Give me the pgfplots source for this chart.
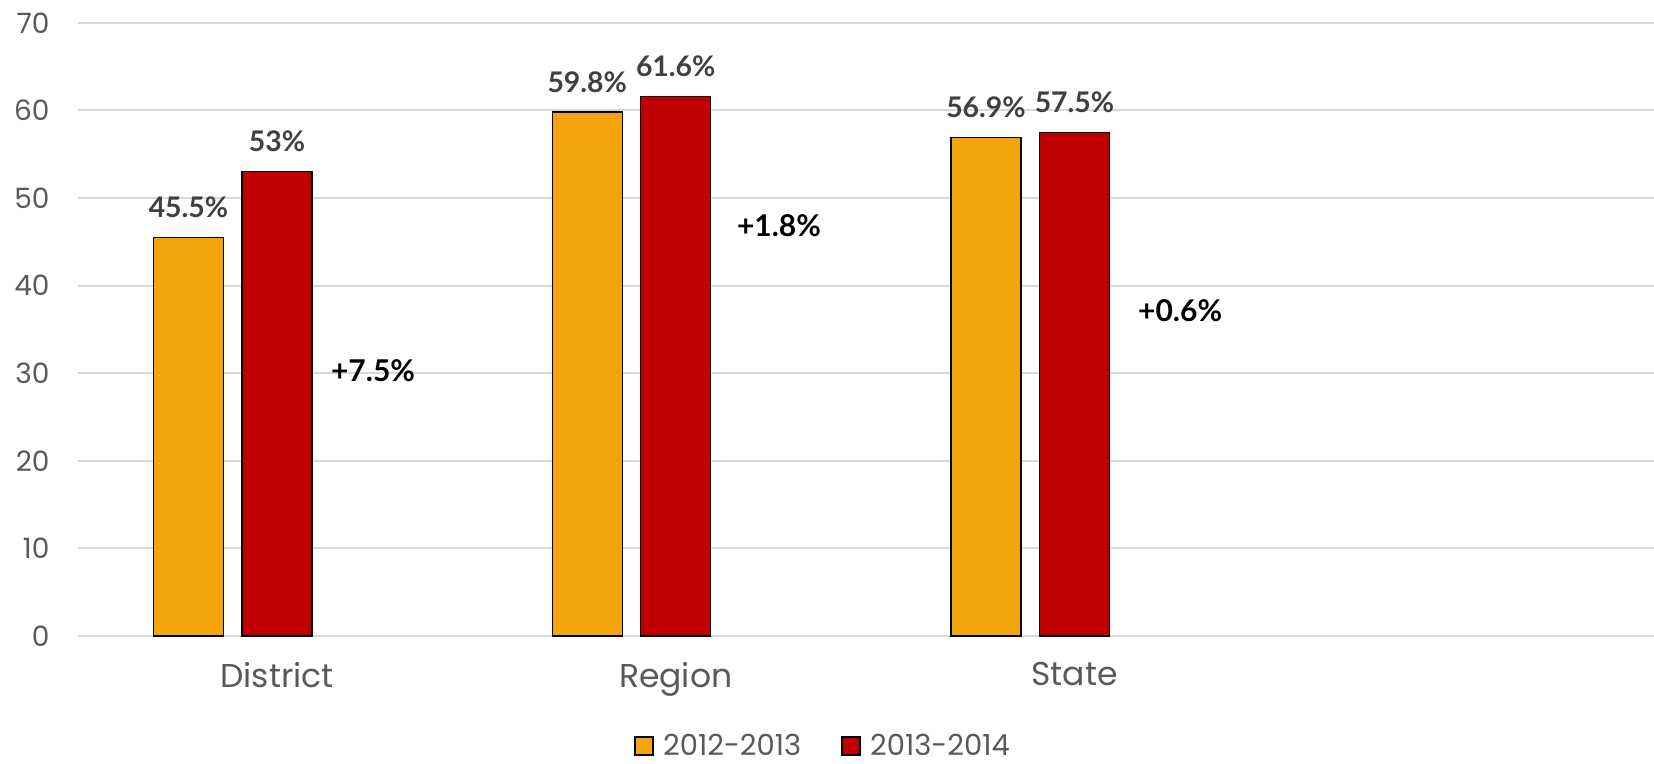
\documentclass[border=0pt]{standalone}
\usepackage{fontspec}
\setmainfont{Poppins}
\newfontfamily\lato{Lato}
\usepackage{pgfplots}
\pgfplotsset{compat=1.18}

\definecolor{barorange}{HTML}{F2A40A}
\definecolor{barred}{HTML}{C00000}
\definecolor{gridgray}{HTML}{D9D9D9}
\definecolor{ticktext}{HTML}{595959}
\definecolor{valtext}{HTML}{404040}

\begin{document}
\begin{tikzpicture}
    \useasboundingbox (0,0) rectangle (827pt,382pt);
    \begin{axis}[
        at = {(38.8pt,64pt)}, anchor = south west,
        scale only axis,
        width = 788.2pt, height = 306.6pt,
        xmin = -0.5, xmax = 3.4534,
        ymin = 0, ymax = 70,
        ybar, bar width = 35pt,
        axis line style = {draw=none},
        major tick length = 0pt,
        ytick = {0,10,...,70},
        xtick = {0,1,2},
        xticklabels = {District, Region, State},
        ymajorgrids,
        grid style = {gridgray, line width=1pt},
        /pgf/number format/assume math mode = true,
        yticklabel style = {font=\fontsize{14}{16}\selectfont, text=ticktext, xshift=-10.5pt},
        xticklabel style = {font=\fontsize{16.5}{19}\selectfont, text=ticktext, yshift=-9.5pt},
        nodes near coords = {\pgfmathprintnumber{\pgfplotspointmeta}\%},
        every node near coord/.append style = {font=\lato\bfseries\fontsize{14.2}{17}\selectfont, text=valtext, anchor=center, yshift=15pt},
        legend columns = 2,
        legend style = {draw=none, at={(0.4735,-0.180)}, anchor=center,
            font=\fontsize{14.5}{16}\selectfont, text=ticktext, inner sep=0pt,
            /tikz/every even column/.append style={column sep=18pt}},
        legend image code/.code = {
            \draw[#1, line width=1pt] (0pt,-4.5pt) rectangle (9pt,4.5pt);
            \path[draw=none, fill=none] (9pt,0pt) -- (12pt,0pt);
        },
        clip = false,
    ]
        \addplot[fill=barorange, draw=black, line width=0.7pt, bar shift=-44.25pt]
            coordinates {(0,45.5) (1,59.8) (2,56.9)};
        \addlegendentry{2012-2013}
        \addplot[fill=barred, draw=black, line width=0.7pt, bar shift=0pt]
            coordinates {(0,53) (1,61.6) (2,57.5)};
        \addlegendentry{2013-2014}

        \node[anchor=west, font=\lato\bfseries\fontsize{15}{18}\selectfont] at (axis cs:0.118,30.25) {+7.5\%};
        \node[anchor=west, font=\lato\bfseries\fontsize{15}{18}\selectfont] at (axis cs:1.136,46.8) {+1.8\%};
        \node[anchor=west, font=\lato\bfseries\fontsize{15}{18}\selectfont] at (axis cs:2.142,37.1) {+0.6\%};
    \end{axis}
\end{tikzpicture}
\end{document}
